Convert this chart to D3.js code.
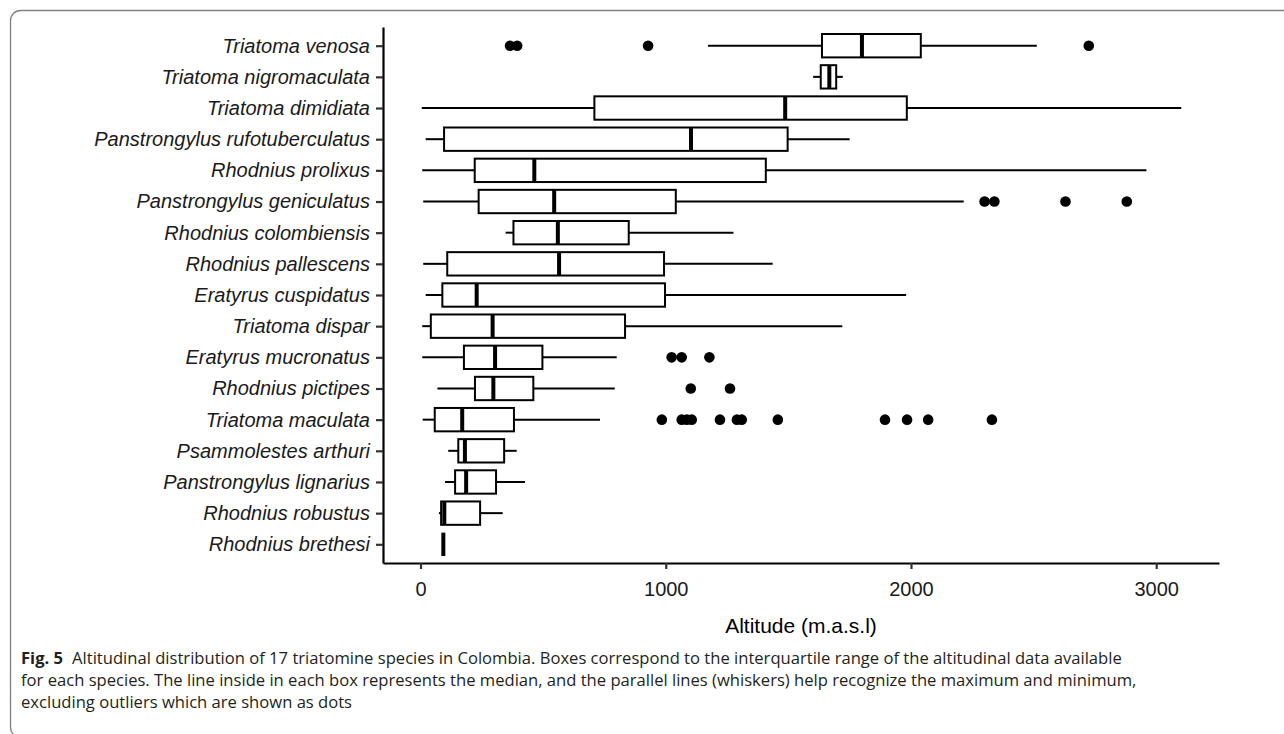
<!DOCTYPE html>
<html>
<head>
<meta charset="utf-8">
<script src="https://cdn.jsdelivr.net/npm/d3@7"></script>
<style>
  body { margin: 0; background: #fff; }
  svg { display: block; }
</style>
</head>
<body>
<svg id="chart"></svg>
<script>
// species, top to bottom as in the figure
const species = [
  'Triatoma venosa', 'Triatoma nigromaculata', 'Triatoma dimidiata',
  'Panstrongylus rufotuberculatus', 'Rhodnius prolixus', 'Panstrongylus geniculatus',
  'Rhodnius colombiensis', 'Rhodnius pallescens', 'Eratyrus cuspidatus',
  'Triatoma dispar', 'Eratyrus mucronatus', 'Rhodnius pictipes',
  'Triatoma maculata', 'Psammolestes arthuri', 'Panstrongylus lignarius',
  'Rhodnius robustus', 'Rhodnius brethesi'
];
// box stats, altitude in m.a.s.l
const whiskerLow  = [1172, 1601,    5,   21,    7,   11,  347,   11,   21,    7,    7,   69,    9,  113,  100,   75,  93];
const q1          = [1637, 1632,  709,   96,  221,  237,  379,  109,   89,   42,  177,  222,   58,  154,  141,   84,  93];
const median      = [1800, 1667, 1487, 1103,  464,  545,  560,  565,  229,  294,  304,  297,  170,  181,  186,   97,  93];
const q3          = [2040, 1695, 1983, 1497, 1408, 1041,  849,  993,  997,  834,  497,  460,  381,  341,  308,  243,  93];
const whiskerHigh = [2513, 1722, 3102, 1750, 2960, 2215, 1276, 1436, 1980, 1720,  800,  792,  732,  392,  426,  335,  93];
const outliers = [
  [365, 394, 928, 2725],
  [], [], [], [],
  [2300, 2340, 2630, 2880],
  [], [], [], [],
  [1024, 1065, 1178],
  [1102, 1262],
  [984, 1065, 1086, 1106, 1221, 1290, 1310, 1457, 1894, 1984, 2070, 2330],
  [], [], [], []
];
const xTicks = [0, 1000, 2000, 3000];

const captionLines = [
  'Altitudinal distribution of 17 triatomine species in Colombia. Boxes correspond to the interquartile range of the altitudinal data available',
  'for each species. The line inside in each box represents the median, and the parallel lines (whiskers) help recognize the maximum and minimum,',
  'excluding outliers which are shown as dots'
];

const width = 1284, height = 734;
const svg = d3.select('#chart').attr('width', width).attr('height', height);

// rounded frame around figure + caption
svg.append('rect')
  .attr('x', 10.5).attr('y', 10.5)
  .attr('width', 1400).attr('height', 727)
  .attr('rx', 10)
  .attr('fill', 'none')
  .attr('stroke', '#808080')
  .attr('stroke-width', 1.3);

const plot = { left: 383, right: 1219, top: 27, bottom: 563 };

const x = d3.scaleLinear()
  .domain([-153, 3256])
  .range([plot.left, plot.right]);

const y = d3.scalePoint()
  .domain(species)
  .range([plot.top, plot.bottom])
  .padding(0.6);

const boxH = y.step() * 0.75;
const font = '"Liberation Sans", Arial, sans-serif';
const lw = 2;

species.forEach(function(s, i) {
  const cy = y(s);
  const g = svg.append('g');
  // whiskers
  g.append('line')
    .attr('x1', x(whiskerLow[i])).attr('x2', x(q1[i]))
    .attr('y1', cy).attr('y2', cy)
    .attr('stroke', '#000').attr('stroke-width', lw);
  g.append('line')
    .attr('x1', x(q3[i])).attr('x2', x(whiskerHigh[i]))
    .attr('y1', cy).attr('y2', cy)
    .attr('stroke', '#000').attr('stroke-width', lw);
  // box + median
  g.append('rect')
    .attr('x', x(q1[i])).attr('y', cy - boxH / 2)
    .attr('width', x(q3[i]) - x(q1[i])).attr('height', boxH)
    .attr('fill', '#fff')
    .attr('stroke', '#000').attr('stroke-width', lw);
  g.append('line')
    .attr('x1', x(median[i])).attr('x2', x(median[i]))
    .attr('y1', cy - boxH / 2).attr('y2', cy + boxH / 2)
    .attr('stroke', '#000').attr('stroke-width', 4);
  g.selectAll('circle')
    .data(outliers[i])
    .join('circle')
    .attr('cx', d => x(d)).attr('cy', cy)
    .attr('r', 5.3)
    .attr('fill', '#000');
});

// axes
const xAxis = svg.append('g')
  .attr('transform', `translate(0,${plot.bottom})`)
  .call(d3.axisBottom(x).tickValues(xTicks).tickFormat(d3.format('d')).tickSize(6).tickSizeOuter(0));

const yAxis = svg.append('g')
  .attr('transform', `translate(${plot.left},0)`)
  .call(d3.axisLeft(y).tickSize(7).tickSizeOuter(0));

[xAxis, yAxis].forEach(function(a) {
  a.select('.domain').attr('stroke', '#000').attr('stroke-width', 2.2);
  a.selectAll('.tick line').attr('stroke', '#333').attr('stroke-width', 2.2);
  a.selectAll('.tick text')
    .attr('fill', '#1a1a1a')
    .attr('font-family', font)
    .attr('font-size', 20);
});

xAxis.selectAll('.tick text').attr('y', 33).attr('dy', null);
yAxis.selectAll('.tick text').attr('x', -13).attr('font-style', 'italic');

svg.append('text')
  .attr('x', (plot.left + plot.right) / 2)
  .attr('y', 633)
  .attr('text-anchor', 'middle')
  .attr('font-family', font)
  .attr('font-size', 21)
  .attr('fill', '#000')
  .text('Altitude (m.a.s.l)');

// caption
const cap = svg.append('g')
  .attr('font-family', '"Open Sans", "Noto Sans", sans-serif')
  .attr('font-size', 16.6)
  .attr('fill', '#231f20');

const first = cap.append('text').attr('x', 21).attr('y', 664);
first.append('tspan').attr('font-weight', 'bold').text('Fig. 5');
first.append('tspan').attr('dx', 9).text(captionLines[0]);

cap.append('text').attr('x', 21).attr('y', 686).text(captionLines[1]);
cap.append('text').attr('x', 21).attr('y', 708).text(captionLines[2]);
</script>
</body>
</html>
